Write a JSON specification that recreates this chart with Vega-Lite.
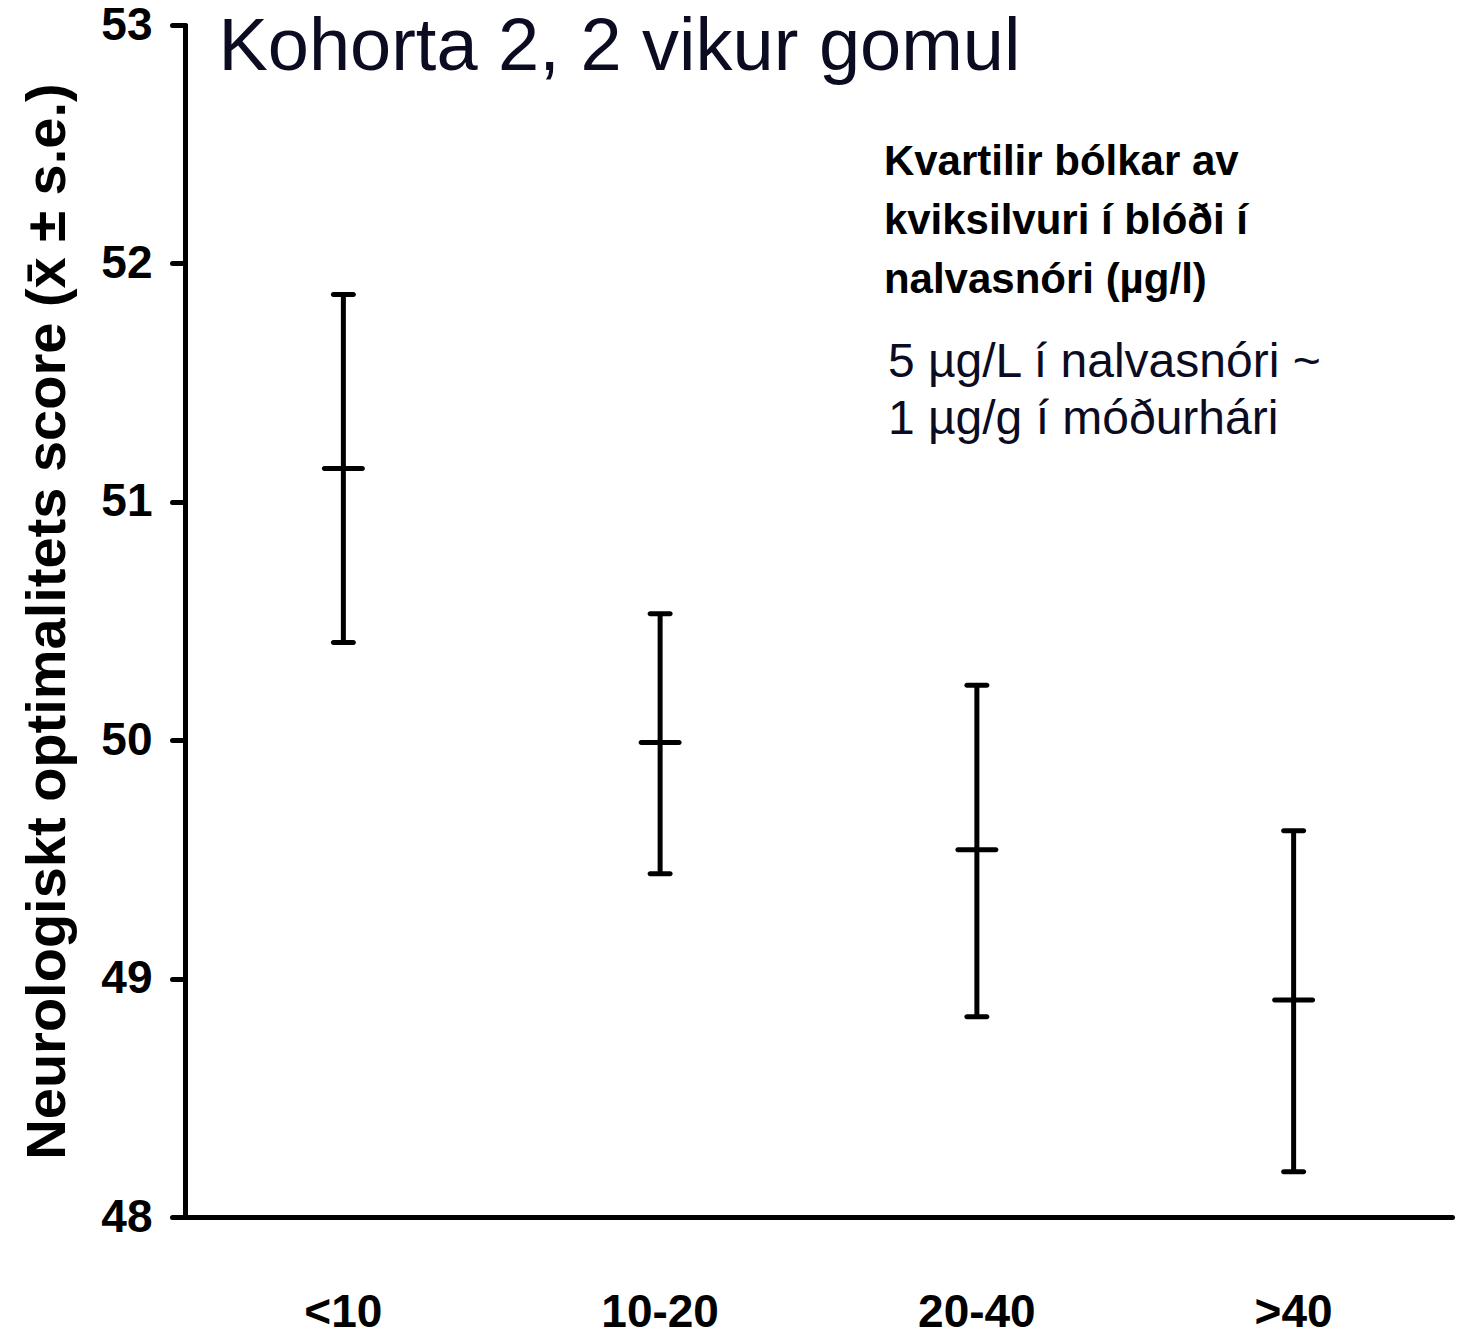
{
  "$schema": "https://vega.github.io/schema/vega-lite/v6.json",
  "width": 1267,
  "height": 1192,
  "autosize": {"type": "none"},
  "padding": {"left": 185, "top": 25, "right": 8, "bottom": 118},
  "background": "white",
  "config": {"view": {"stroke": null}, "font": "Liberation Sans"},
  "data": {
    "values": [
      {"group": "<10", "mean": 51.14, "lower": 50.41, "upper": 51.87},
      {"group": "10-20", "mean": 49.99, "lower": 49.44, "upper": 50.53},
      {"group": "20-40", "mean": 49.54, "lower": 48.84, "upper": 50.23},
      {"group": ">40", "mean": 48.91, "lower": 48.19, "upper": 49.62}
    ]
  },
  "layer": [
    {
      "mark": {"type": "rule", "strokeWidth": 5, "color": "black"},
      "encoding": {
        "x": {
          "field": "group", "type": "nominal", "sort": ["<10", "10-20", "20-40", ">40"],
          "scale": {"paddingInner": 0, "paddingOuter": 0},
          "axis": {
            "title": null, "ticks": false, "tickSize": 0, "labelAngle": 0,
            "labelFont": "Liberation Sans", "labelFontSize": 46, "labelFontWeight": "bold", "labelColor": "black",
            "labelPadding": 73, "domainColor": "black", "domainWidth": 5, "domainCap": "round", "grid": false
          }
        },
        "y": {
          "field": "lower", "type": "quantitative",
          "scale": {"domain": [48, 53], "nice": false, "zero": false},
          "axis": {
            "values": [48, 49, 50, 51, 52, 53], "format": "d", "grid": false,
            "tickSize": 13, "tickWidth": 5, "tickColor": "black", "tickCap": "round",
            "domainColor": "black", "domainWidth": 5, "domainCap": "round",
            "labelFont": "Liberation Sans", "labelFontSize": 46, "labelFontWeight": "bold", "labelColor": "black",
            "labelPadding": 20,
            "title": "Neurologiskt optimalitets score (x̄ ± s.e.)",
            "titleFont": "Liberation Sans", "titleFontSize": 56, "titleFontWeight": "bold", "titleColor": "black",
            "titlePadding": 24
          }
        },
        "y2": {"field": "upper"}
      }
    },
    {
      "mark": {"type": "tick", "size": 25, "thickness": 5, "color": "black", "cornerRadius": 2.5, "opacity": 1},
      "encoding": {
        "x": {"field": "group", "type": "nominal", "sort": ["<10", "10-20", "20-40", ">40"]},
        "y": {"field": "upper", "type": "quantitative"}
      }
    },
    {
      "mark": {"type": "tick", "size": 25, "thickness": 5, "color": "black", "cornerRadius": 2.5, "opacity": 1},
      "encoding": {
        "x": {"field": "group", "type": "nominal", "sort": ["<10", "10-20", "20-40", ">40"]},
        "y": {"field": "lower", "type": "quantitative"}
      }
    },
    {
      "mark": {"type": "tick", "size": 43, "thickness": 5, "color": "black", "cornerRadius": 2.5, "opacity": 1},
      "encoding": {
        "x": {"field": "group", "type": "nominal", "sort": ["<10", "10-20", "20-40", ">40"]},
        "y": {"field": "mean", "type": "quantitative"}
      }
    },
    {
      "data": {"values": [{}]},
      "mark": {"type": "text", "text": "Kohorta 2, 2 vikur gomul", "align": "left", "baseline": "alphabetic", "fontSize": 74, "color": "#0b0b22", "dx": -125, "font": "Liberation Sans"},
      "encoding": {
        "x": {"datum": "<10", "type": "nominal"},
        "y": {"datum": 52.81, "type": "quantitative"}
      }
    },
    {
      "data": {"values": [{}]},
      "mark": {"type": "text", "text": ["Kvartilir bólkar av", "kviksilvuri í blóði í", "nalvasnóri (µg/l)"], "align": "left", "baseline": "alphabetic", "fontSize": 42, "fontWeight": "bold", "lineHeight": 59, "color": "black", "dx": -93, "font": "Liberation Sans"},
      "encoding": {
        "x": {"datum": "20-40", "type": "nominal"},
        "y": {"datum": 52.371, "type": "quantitative"}
      }
    },
    {
      "data": {"values": [{}]},
      "mark": {"type": "text", "text": ["5 µg/L í nalvasnóri ~", "1 µg/g í móðurhári"], "align": "left", "baseline": "alphabetic", "fontSize": 48, "lineHeight": 57, "color": "#0b0b22", "dx": -89, "font": "Liberation Sans"},
      "encoding": {
        "x": {"datum": "20-40", "type": "nominal"},
        "y": {"datum": 51.523, "type": "quantitative"}
      }
    }
  ]
}
